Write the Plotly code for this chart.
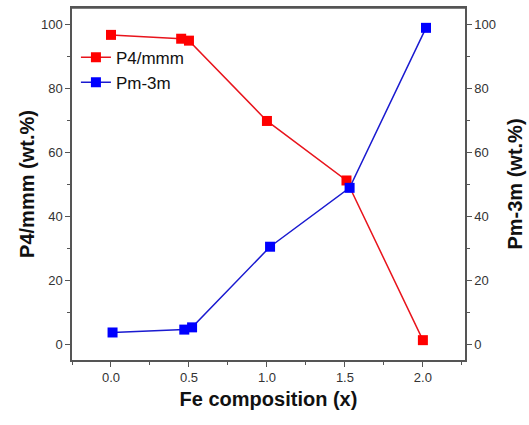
import plotly.graph_objects as go

x_p4 = [0.0, 0.45, 0.50, 1.0, 1.51, 2.0]
y_p4 = [96.6, 95.4, 94.8, 69.7, 51.1, 1.2]
x_pm = [0.01, 0.47, 0.52, 1.02, 1.53, 2.02]
y_pm = [3.6, 4.5, 5.2, 30.4, 48.8, 98.8]

fig = go.Figure()
fig.add_trace(go.Scatter(x=x_p4, y=y_p4, name="P4/mmm", mode="lines+markers",
                         line=dict(color="#e8141c", width=1.5),
                         marker=dict(symbol="square", size=10, color="#ff0000")))
fig.add_trace(go.Scatter(x=x_pm, y=y_pm, name="Pm-3m", mode="lines+markers", yaxis="y2",
                         line=dict(color="#1a1ad0", width=1.5),
                         marker=dict(symbol="square", size=10, color="#0000ff")))

axis_common = dict(showline=True, linecolor="#555555", linewidth=1.5, ticks="outside",
                   ticklen=5, tickwidth=1.2, tickcolor="#555555", showgrid=False, zeroline=False,
                   tickfont=dict(family="Liberation Sans, Arial", size=13, color="#333333"))

fig.update_layout(
    width=529, height=425,
    margin=dict(l=72, r=62, t=6, b=65),
    paper_bgcolor="white", plot_bgcolor="white",
    font=dict(family="Liberation Sans, Arial", color="#111111"),
    xaxis=dict(range=[-0.25, 2.27], tickvals=[0, 0.5, 1.0, 1.5, 2.0],
               ticktext=["0.0", "0.5", "1.0", "1.5", "2.0"], mirror=True,
               minor=dict(ticks="outside", ticklen=3, tickcolor="#555555", dtick=0.25, tick0=0),
               title=dict(text="<b>Fe composition (x)</b>", font=dict(size=20, color="#111111"), standoff=8),
               **axis_common),
    yaxis=dict(range=[-5, 105], tickvals=[0, 20, 40, 60, 80, 100], mirror=False,
               minor=dict(ticks="outside", ticklen=3, tickcolor="#555555", dtick=10, tick0=0),
               title=dict(text="<b>P4/mmm (wt.%)</b>", font=dict(size=20, color="#111111"), standoff=1),
               **axis_common),
    yaxis2=dict(range=[-5, 105], tickvals=[0, 20, 40, 60, 80, 100], overlaying="y", side="right",
                minor=dict(ticks="outside", ticklen=3, tickcolor="#555555", dtick=10, tick0=0),
                title=dict(text="<b>Pm-3m (wt.%)</b>", font=dict(size=20, color="#111111"), standoff=13),
                **axis_common),
    legend=dict(x=0.01, y=0.91, xanchor="left", yanchor="top", bgcolor="rgba(0,0,0,0)",
                font=dict(size=17, color="#111111"), tracegroupgap=0, itemwidth=30),
    showlegend=True,
)
fig.add_shape(type="line", xref="paper", yref="paper", x0=0, x1=1, y0=1, y1=1,
              line=dict(color="#555555", width=1.5))

fig.write_html("out.html")
